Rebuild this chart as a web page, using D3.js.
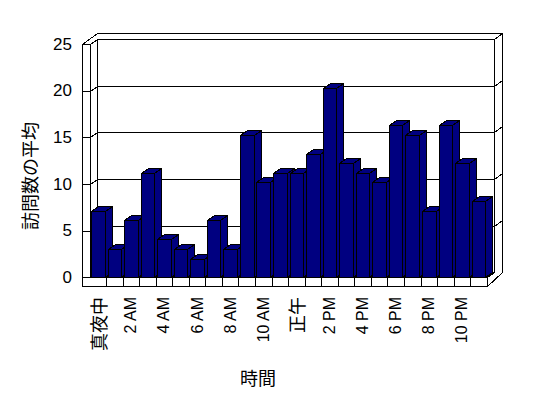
<!DOCTYPE html>
<html><head><meta charset="utf-8">
<script src="https://cdn.jsdelivr.net/npm/d3@7"></script>
<style>body{margin:0;background:#fff}svg{display:block}</style>
</head><body>
<svg id="c" width="548" height="398"></svg>
<script>
const hours = ["真夜中","1 AM","2 AM","3 AM","4 AM","5 AM","6 AM","7 AM","8 AM","9 AM","10 AM","11 AM",
               "正午","1 PM","2 PM","3 PM","4 PM","5 PM","6 PM","7 PM","8 PM","9 PM","10 PM","11 PM"];
const values = [7.1,3.0,6.2,11.2,4.1,3.0,2.0,6.2,3.0,15.2,10.2,11.2,11.2,13.2,20.3,12.3,11.2,10.2,16.3,15.2,7.1,16.3,12.3,8.2];
const xTickLabels = ["真夜中","2 AM","4 AM","6 AM","8 AM","10 AM","正午","2 PM","4 PM","6 PM","8 PM","10 PM"];
const yTicks = [0,5,10,15,20,25];
const yTitle = "訪問数の平均";
const xTitle = "時間";

const svg = d3.select("#c");
const x = d3.scaleBand().domain(hours).range([89.5,486.7]);
const y = d3.scaleLinear().domain([0,25]).range([277.4,44]);
const s = v => Math.round(v)+0.5;
const dx=7, dy=-5, tx=8, ty=-6;
const xOuter=s(81.6), xIn=s(x.range()[0]), xR=s(x.range()[1]), floorB=s(285.6);
const y0=s(y(0)), yTop=s(y(25));
const bL=xIn+dx, bR=xR+dx;
const g = svg.append("g").attr("stroke","#000").attr("stroke-width",1).attr("fill","none").attr("shape-rendering","crispEdges");
const line=(pts)=>g.append("path").attr("d","M"+pts.map(p=>p.join(",")).join("L"));

// outer silhouette
g.append("path").attr("fill","#fff")
 .attr("d",`M${xOuter},${floorB}V${yTop}L${xOuter+dx+tx},${yTop+dy+ty}H${bR+tx}V${y0+dy+ty+6}L${xR},${floorB}Z`);
line([[xOuter,yTop],[xIn,yTop],[bL,yTop+dy],[bR,yTop+dy],[bR+tx,yTop+dy+ty]]);
line([[xIn,yTop],[xIn,y0]]);
line([[bL,yTop+dy],[bL,y0+dy]]);
line([[bR,yTop+dy],[bR,y0+dy]]);
line([[xOuter,y0],[xR,y0],[xR,floorB]]);
line([[xR,y0],[bR,y0+dy],[bL,y0+dy]]);
// gridlines & ticks
yTicks.filter(v=>v>0&&v<25).forEach(v=>{
  const yf=s(y(v)), yb=yf+dy;
  line([[xOuter,yf],[xIn,yf],[bL,yb],[bR,yb],[bR+tx,yb+ty]]);
});
// category ticks
hours.slice(1).forEach(h=>line([[s(x(h)),y0],[s(x(h)),floorB]]));

// bars
const bw = x.bandwidth()*0.82, off = x.bandwidth()*0.09;
const bars = svg.append("g").attr("fill","#000080").attr("stroke","#000").attr("shape-rendering","crispEdges");
hours.forEach((h,i)=>{
  const x0=s(x(h)+off), x1=s(x(h)+off+bw), yt=s(y(values[i]));
  bars.append("path").attr("d",`M${x1},${yt}L${x1+dx},${yt+dy}L${x1+dx},${y0+dy}L${x1},${y0}Z`);
  bars.append("path").attr("d",`M${x0},${yt}L${x0+dx},${yt+dy}L${x1+dx},${yt+dy}L${x1},${yt}Z`);
  bars.append("path").attr("d",`M${x0},${yt}H${x1}V${y0}H${x0}Z`);
});

const font = "'Liberation Sans', Arial, 'Noto Sans CJK JP', sans-serif";
const cjk = /[\u3000-\u9fff]/;
// y tick labels
svg.append("g").selectAll("text").data(yTicks).join("text")
  .attr("x",72).attr("y",d=>y(d)).attr("text-anchor","end").attr("dominant-baseline","central")
  .attr("font-family",font).attr("font-size",17).text(d=>d);
// x tick labels
svg.append("g").selectAll("text").data(xTickLabels).join("text")
  .attr("transform",d=>`translate(${x(d)+x.bandwidth()/2},297) rotate(-90)`)
  .attr("text-anchor","end").attr("dominant-baseline","central")
  .attr("font-family",d=>cjk.test(d)?"'Noto Sans CJK JP', sans-serif":font)
  .attr("font-size",d=>cjk.test(d)?18:16).text(d=>d);
// titles
svg.append("text").attr("transform","translate(29,176) rotate(-90)").attr("text-anchor","middle")
  .attr("dominant-baseline","central").attr("font-family","'Noto Sans CJK JP', sans-serif").attr("font-size",18).text(yTitle);
svg.append("text").attr("x",258).attr("y",377).attr("text-anchor","middle")
  .attr("dominant-baseline","central").attr("font-family","'Noto Sans CJK JP', sans-serif").attr("font-size",18).text(xTitle);
</script>
</body></html>
